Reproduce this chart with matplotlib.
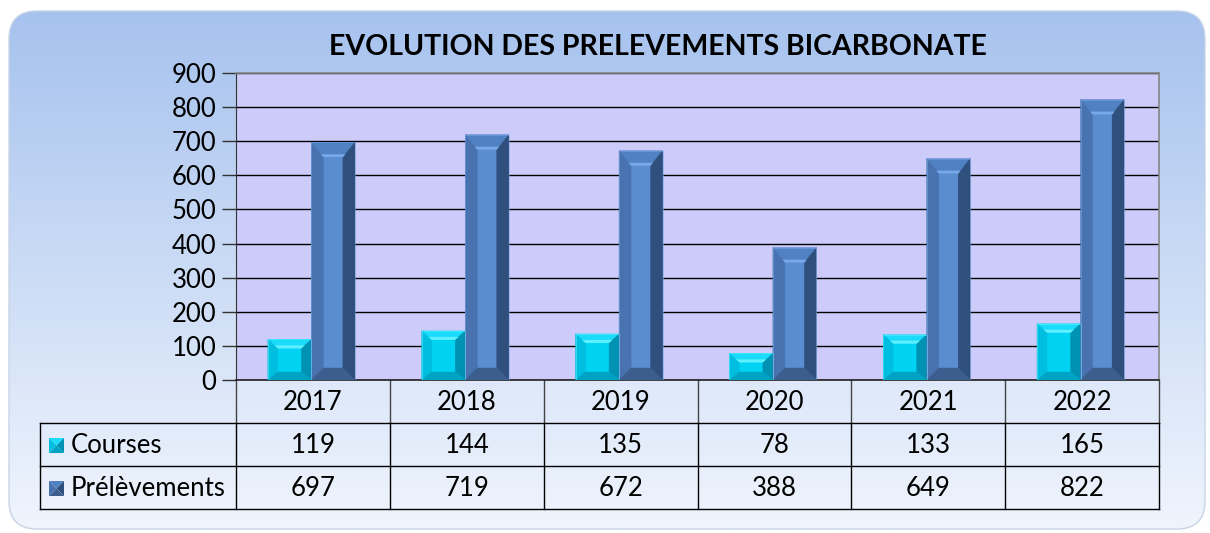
import numpy as np
import matplotlib
matplotlib.use("Agg")
import matplotlib.pyplot as plt
from matplotlib.patches import Polygon, FancyBboxPatch, Rectangle
from matplotlib.lines import Line2D

years = ["2017", "2018", "2019", "2020", "2021", "2022"]
courses = [119, 144, 135, 78, 133, 165]
prelevements = [697, 719, 672, 388, 649, 822]
series_names = ["Courses", "Prélèvements"]
title = "EVOLUTION DES PRELEVEMENTS BICARBONATE"
yticks = [0, 100, 200, 300, 400, 500, 600, 700, 800, 900]

FONT = ["Lato", "DejaVu Sans"]
plt.rcParams['font.family'] = FONT
FS = 18.5

W, H = 1210, 533
fig = plt.figure(figsize=(W / 100, H / 100), dpi=100)

# background panel (pixel coordinates overlay)
bg = fig.add_axes([0, 0, 1, 1])
bg.set_xlim(0, W)
bg.set_ylim(H, 0)
bg.axis("off")
panel = FancyBboxPatch((9, 11), 1196, 518, boxstyle="round,pad=0,rounding_size=28",
                       fc="none", ec="#c8d4e6", lw=1.0)
bg.add_patch(panel)
grad = np.linspace(0, 1, 256)[:, None]
top = np.array([0xa6, 0xc2, 0xee]) / 255
bot = np.array([0xf0, 0xf5, 0xfd]) / 255
img = top[None, None, :] * (1 - grad[..., None]) + bot[None, None, :] * grad[..., None]
im = bg.imshow(img, extent=(9, 1205, 529, 11), aspect="auto", zorder=0)
im.set_clip_path(panel)

# plot area
x0p, x1p, y0p, y1p = 236, 1159, 73, 380
ax = fig.add_axes([x0p / W, 1 - y1p / H, (x1p - x0p) / W, (y1p - y0p) / H])
ax.set_facecolor("#cccbfa")
ax.set_xlim(-0.5, 5.5)
ax.set_ylim(0, 900)
ax.set_yticks(yticks)
ax.set_yticklabels([str(v) for v in yticks], fontsize=FS)
ax.tick_params(axis="y", length=10, width=1, color="#333333", pad=4)
ax.set_xticks([])
ax.grid(axis="y", color="black", lw=1.0)
ax.set_axisbelow(True)
for s in ["top", "right"]:
    ax.spines[s].set_color("#868686")
    ax.spines[s].set_linewidth(1.2)
ax.spines["left"].set_color("#333333")
ax.spines["bottom"].set_color("#222222")
ax.spines["bottom"].set_linewidth(1.2)

x = np.arange(len(years))
bw = 0.283
b1 = ax.bar(x - bw / 2 - 0.01, courses, bw, color="#00d0f2", zorder=3)
b2 = ax.bar(x + bw / 2 - 0.01, prelevements, bw, color="#5486c8", zorder=3)

ppx = 6 / (x1p - x0p)      # data units per pixel (x)
ppy = 900 / (y1p - y0p)    # data units per pixel (y)


def bevel(axis, rect, bpx, bpy_top, bpy_bot, colors, hl, zorder=4):
    xl = rect.get_x()
    xr = xl + rect.get_width()
    yb = rect.get_y()
    yt = yb + rect.get_height()
    bx = bpx * ppx
    byt = min(bpy_top * ppy, rect.get_height() / 2.2)
    byb = min(bpy_bot * ppy, rect.get_height() / 2.2)
    c_center, c_top, c_left, c_right, c_bot = colors
    faces = [
        ([(xl + bx, yb + byb), (xr - bx, yb + byb), (xr - bx, yt - byt), (xl + bx, yt - byt)], c_center),
        ([(xl, yt), (xr, yt), (xr - bx, yt - byt), (xl + bx, yt - byt)], c_top),
        ([(xl, yb), (xl + bx, yb + byb), (xl + bx, yt - byt), (xl, yt)], c_left),
        ([(xr, yb), (xr, yt), (xr - bx, yt - byt), (xr - bx, yb + byb)], c_right),
        ([(xl, yb), (xr, yb), (xr - bx, yb + byb), (xl + bx, yb + byb)], c_bot),
    ]
    for pts, c in faces:
        axis.add_patch(Polygon(pts, closed=True, fc=c, ec=c, lw=0.3, zorder=zorder))
    # highlight strip at the lower edge of the top face
    hy = 3 * ppy
    hx = bx * hy / byt if byt > 0 else 0
    axis.add_patch(Polygon([(xl + bx - hx, yt - byt + hy), (xr - bx + hx, yt - byt + hy),
                            (xr - bx, yt - byt), (xl + bx, yt - byt)],
                           closed=True, fc=hl, ec="none", zorder=zorder + 0.1))
    axis.add_patch(Rectangle((xl, yb), xr - xl, yt - yb, fc="none", ec=hl, lw=0.6,
                             alpha=0.6, zorder=zorder + 0.2))


cyan_cols = ("#00d2f2", "#1adcfa", "#00bedf", "#0092b3", "#00a3c3")
blue_cols = ("#5a8cd0", "#5081c3", "#4973b0", "#2f4f7c", "#3b5e8e")
for r in b1:
    bevel(ax, r, 10, 9, 8, cyan_cols, "#5ef0ff")
for r in b2:
    bevel(ax, r, 12, 15, 12, blue_cols, "#78a8e8")

# title
bg.text(658, 47, title, ha="center", va="center", fontsize=20.5, fontweight="bold", color="black")

# data table
colw = (x1p - x0p) / len(years)
row_edges = [380, 423, 466, 509]
leg_left = 40
ln = dict(color="black", lw=1.0, zorder=5)
# year row
for i in range(len(years) + 1):
    bg.add_line(Line2D([x0p + i * colw] * 2, [row_edges[0], row_edges[1]], color="#444444", lw=1.0))
bg.add_patch(Rectangle((x0p, row_edges[0]), x1p - x0p, row_edges[1] - row_edges[0],
                       fc="#e2ebfb", ec="none", alpha=0.5, zorder=1))
for i, yl in enumerate(years):
    bg.text(x0p + (i + 0.5) * colw, (row_edges[0] + row_edges[1]) / 2 + 1, yl,
            ha="center", va="center", fontsize=FS)
# series rows
for yy in row_edges[1:]:
    bg.add_line(Line2D([leg_left, x1p], [yy, yy], **ln))
for xx in [leg_left] + [x0p + i * colw for i in range(len(years) + 1)]:
    bg.add_line(Line2D([xx, xx], [row_edges[1], row_edges[3]], **ln))

series = [courses, prelevements]
marker_cols = [cyan_cols, blue_cols]
for r, (name, vals, cols) in enumerate(zip(series_names, series, marker_cols)):
    yc = (row_edges[r + 1] + row_edges[r + 2]) / 2
    # legend marker
    ms = 15
    mx, my = 49, yc - ms / 2 + 1
    c_center, c_top, c_left, c_right, c_bot = cols
    bg.add_patch(Polygon([(mx, my), (mx + ms, my), (mx + ms / 2, my + ms / 2)], fc=c_top, ec="none"))
    bg.add_patch(Polygon([(mx, my), (mx, my + ms), (mx + ms / 2, my + ms / 2)], fc=c_left, ec="none"))
    bg.add_patch(Polygon([(mx + ms, my), (mx + ms, my + ms), (mx + ms / 2, my + ms / 2)], fc=c_right, ec="none"))
    bg.add_patch(Polygon([(mx, my + ms), (mx + ms, my + ms), (mx + ms / 2, my + ms / 2)], fc=c_bot, ec="none"))
    bg.text(71, yc + 1, name, ha="left", va="center", fontsize=FS)
    for i, v in enumerate(vals):
        bg.text(x0p + (i + 0.5) * colw, yc + 1, str(v), ha="center", va="center", fontsize=FS)

fig.savefig("out.png", dpi=100, facecolor="white")
